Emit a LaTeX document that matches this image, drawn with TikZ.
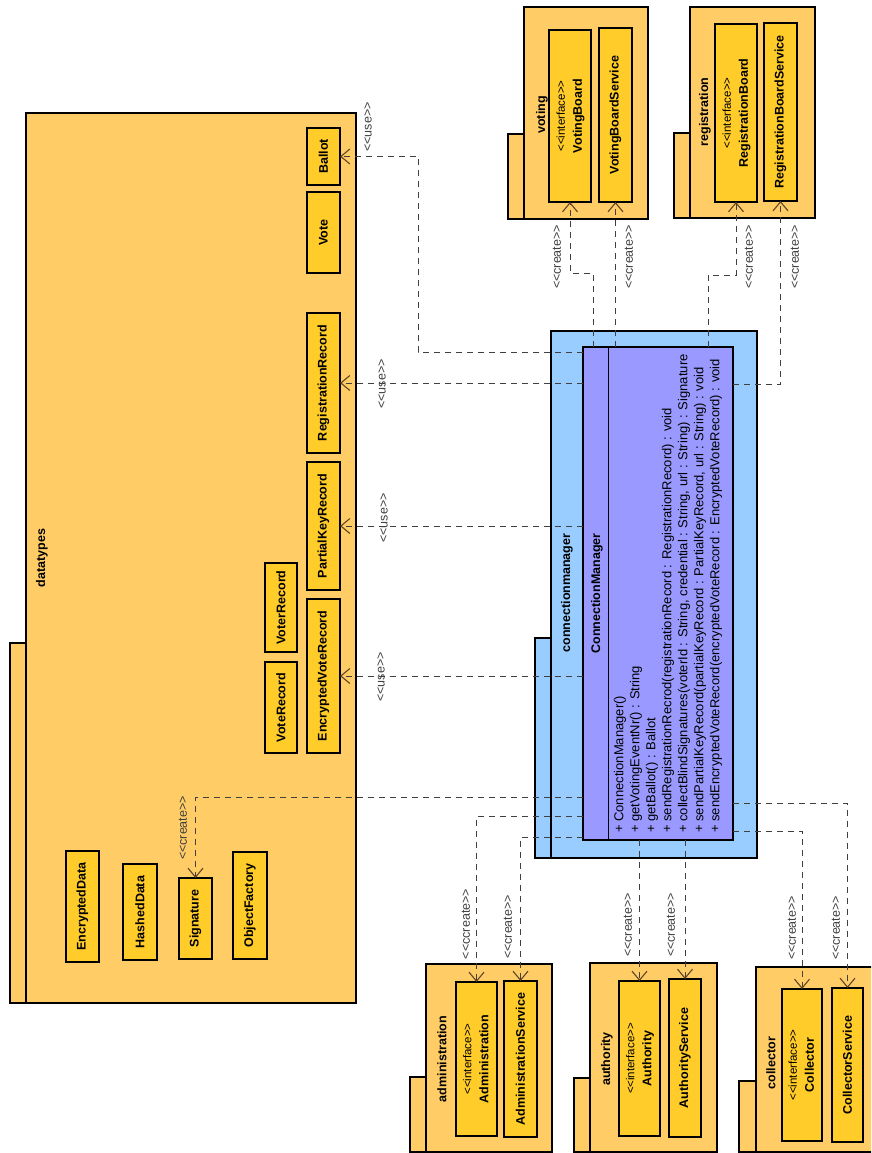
\documentclass[tikz,border=0pt]{standalone}
\usepackage{fontspec}
\setmainfont{Liberation Sans}
\usepackage{graphicx}
\usetikzlibrary{arrows.meta}
\definecolor{pkgfill}{RGB}{255,204,102}
\definecolor{clsfill}{RGB}{255,204,41}
\definecolor{cmpkgfill}{RGB}{153,204,255}
\definecolor{cmclsfill}{RGB}{153,153,255}
\definecolor{tipbrown}{RGB}{96,70,36}
\newcommand\rottext[1]{\rotatebox{90}{#1}}
\newcommand\stereo[1]{<\kern0pt<#1>\kern0pt>}
\newcommand\iface[1]{\rotatebox{90}{\begin{tabular}{@{}c@{}}{\fontsize{11.5}{17}\mdseries\stereo{interface}}\\#1\end{tabular}}}

\begin{document}
\begin{tikzpicture}[x=1pt, y=-1pt,
  pkg/.style={draw, line width=1.4pt, fill=pkgfill, inner sep=0pt, outer sep=0pt, anchor=north west},
  cls/.style={pkg, fill=clsfill, font=\fontsize{12.5}{17}\selectfont\bfseries},
  pname/.style={font=\fontsize{12.5}{14}\selectfont\bfseries, inner sep=0pt},
  lbl/.style={font=\fontsize{12.5}{14}\selectfont, text=black!75, inner sep=0pt},
  dep/.style={dash pattern=on 6pt off 5pt, line width=1pt, draw=black!75,
              -{Straight Barb[length=9pt,width=15pt,line width=1.1pt,color=tipbrown]}}]
\useasboundingbox (0,0) rectangle (871,1153);
\fill[white] (0,0) rectangle (871,1153);
\clip (0,0) rectangle (871,1153);
% datatypes
\node[pkg, minimum width=16pt, minimum height=360pt] (dttab) at (10,643) {};
\node[pkg, minimum width=330pt, minimum height=890pt] (dt) at (26,113) {};
\node[pname] (dtname) at (42,558) {\rottext{datatypes}};
\node[cls, minimum width=33pt, minimum height=57pt] (ballot) at (307,128) {\rottext{Ballot}};
\node[cls, minimum width=33pt, minimum height=81pt] (vote) at (307,192) {\rottext{Vote}};
\node[cls, minimum width=33pt, minimum height=140pt] (regrec) at (307,313) {\rottext{RegistrationRecord}};
\node[cls, minimum width=33pt, minimum height=128pt] (pkrec) at (307,462) {\rottext{PartialKeyRecord}};
\node[cls, minimum width=33pt, minimum height=154pt] (evrec) at (307,599) {\rottext{EncryptedVoteRecord}};
\node[cls, minimum width=32pt, minimum height=89pt] (voterrec) at (265,563) {\rottext{VoterRecord}};
\node[cls, minimum width=32pt, minimum height=91pt] (voterec) at (265,662) {\rottext{VoteRecord}};
\node[cls, minimum width=33pt, minimum height=111pt] (encdata) at (66,851) {\rottext{EncryptedData}};
\node[cls, minimum width=34pt, minimum height=96pt] (hashdata) at (123,864) {\rottext{HashedData}};
\node[cls, minimum width=33pt, minimum height=81pt] (sig) at (179,878) {\rottext{Signature}};
\node[cls, minimum width=34pt, minimum height=107pt] (objfac) at (233,852) {\rottext{ObjectFactory}};
% voting, registration
\node[pkg, minimum width=16pt, minimum height=85pt] (vtab) at (508,134) {};
\node[pkg, minimum width=124pt, minimum height=212pt] (vpkg) at (524,7) {};
\node[pname] (vname) at (542,115) {\rottext{voting}};
\node[cls, minimum width=42pt, minimum height=172pt] (vb) at (549,30) {\iface{VotingBoard}};
\node[cls, minimum width=33pt, minimum height=174pt] (vbs) at (599,28) {\rottext{VotingBoardService}};
\node[pkg, minimum width=16pt, minimum height=85pt] (rtab) at (674,133) {};
\node[pkg, minimum width=125pt, minimum height=211pt] (rpkg) at (690,7) {};
\node[pname] (rname) at (705,112) {\rottext{registration}};
\node[cls, minimum width=42pt, minimum height=178pt] (rb) at (715,24) {\iface{RegistrationBoard}};
\node[cls, minimum width=33pt, minimum height=178pt] (rbs) at (764,23) {\rottext{RegistrationBoardService}};
% connectionmanager
\node[pkg, fill=cmpkgfill, minimum width=16pt, minimum height=220pt] (cmtab) at (535,638) {};
\node[pkg, fill=cmpkgfill, minimum width=206pt, minimum height=527pt] (cmpkg) at (551,331) {};
\node[pname] (cmpname) at (567,593) {\rottext{connectionmanager}};
\node[pkg, fill=cmclsfill, minimum width=150pt, minimum height=493pt] (cm) at (583,347) {};
\draw[line width=1pt] ([xshift=25pt]cm.north west) -- ([xshift=25pt]cm.south west);
\node[pname] (cmname) at ([xshift=14pt]cm.west) {\rottext{ConnectionManager}};
\node[inner sep=0pt, anchor=south west, font=\fontsize{13}{16}\selectfont] (cmops) at (612,833)
  {\rottext{\begin{tabular}{@{}l@{}}
   + ConnectionManager()\\
   + getVotingEventNr() : String\\
   + getBallot() : Ballot\\
   + sendRegistrationRecrod(registrationRecord : RegistrationRecord) : void\\
   + collectBlindSignatures(voterId : String, credential : String, url : String) : Signature\\
   + sendPartialKeyRecord(partialKeyRecord : PartialKeyRecord, url : String) : void\\
   + sendEncryptedVoteRecord(encryptedVoteRecord : EncryptedVoteRecord) : void
   \end{tabular}}};
% administration, authority, collector
\node[pkg, minimum width=16pt, minimum height=75pt] (atab) at (410,1077) {};
\node[pkg, minimum width=126pt, minimum height=188pt] (apkg) at (426,964) {};
\node[pname] (aname) at (442,1059) {\rottext{administration}};
\node[cls, minimum width=41pt, minimum height=154pt] (adm) at (456,982) {\iface{Administration}};
\node[cls, minimum width=33pt, minimum height=156pt] (admsvc) at (504,981) {\rottext{AdministrationService}};
\node[pkg, minimum width=16pt, minimum height=74pt] (autab) at (574,1078) {};
\node[pkg, minimum width=127pt, minimum height=189pt] (aupkg) at (590,963) {};
\node[pname] (auname) at (607,1059) {\rottext{authority}};
\node[cls, minimum width=41pt, minimum height=155pt] (auth) at (619,981) {\iface{Authority}};
\node[cls, minimum width=32pt, minimum height=158pt] (authsvc) at (669,979) {\rottext{AuthorityService}};
\node[pkg, minimum width=17pt, minimum height=71pt] (ctab) at (739,1081) {};
\node[pkg, minimum width=150pt, minimum height=185pt] (cpkg) at (756,967) {};
\node[pname] (cname) at (771,1063) {\rottext{collector}};
\node[cls, minimum width=40pt, minimum height=152pt] (col) at (782,989) {\iface{Collector}};
\node[cls, minimum width=31pt, minimum height=154pt] (colsvc) at (832,988) {\rottext{CollectorService}};
% dependencies
\draw[dep] ([yshift=-5pt]cm.north west) -- ++(-165,0) |- (ballot.east);
\draw[dep] (cm.west |- regrec.east) -- (regrec.east);
\draw[dep] (cm.west |- pkrec.east) -- (pkrec.east);
\draw[dep] (cm.west |- evrec.east) -- (evrec.east);
\draw[dep] ([yshift=43pt]cm.south west) -| (sig.north);
\draw[dep] ([yshift=24pt]cm.south west) -| (adm.north);
\draw[dep] ([yshift=3pt]cm.south west) -| (admsvc.north);
\draw[dep] (auth.north |- cm.south) -- (auth.north);
\draw[dep] (authsvc.north |- cm.south) -- (authsvc.north);
\draw[dep] ([yshift=9pt]cm.south east) -| (col.north);
\draw[dep] ([yshift=37pt]cm.south east) -| (colsvc.north);
\draw[dep] ([xshift=10pt]cm.north west) -- ++(0,-74) -| (vb.south);
\draw[dep] (vbs.south |- cm.north) -- (vbs.south);
\draw[dep] ([xshift=-25pt]cm.north east) -- ++(0,-72) -| (rb.south);
\draw[dep] ([yshift=-37pt]cm.north east) -| (rbs.south);
\node[lbl] (u1) at (368,127) {\rottext{\stereo{use}}};
\node[lbl] (u2) at (382,384) {\rottext{\stereo{use}}};
\node[lbl] (u3) at (384,518) {\rottext{\stereo{use}}};
\node[lbl] (u4) at (381,677) {\rottext{\stereo{use}}};
\node[lbl] (c1) at (557,257) {\rottext{\stereo{create}}};
\node[lbl] (c2) at (629,257) {\rottext{\stereo{create}}};
\node[lbl] (c3) at (749,257) {\rottext{\stereo{create}}};
\node[lbl] (c4) at (795,257) {\rottext{\stereo{create}}};
\node[lbl] (c5) at (183,828) {\rottext{\stereo{create}}};
\node[lbl] (c6) at (466,924) {\rottext{\stereo{ccreate}}};
\node[lbl] (c7) at (508,927) {\rottext{\stereo{create}}};
\node[lbl] (c8) at (628,925) {\rottext{\stereo{create}}};
\node[lbl] (c9) at (671,925) {\rottext{\stereo{create}}};
\node[lbl] (c10) at (792,928) {\rottext{\stereo{create}}};
\node[lbl] (c11) at (836,928) {\rottext{\stereo{create}}};
\end{tikzpicture}
\end{document}
